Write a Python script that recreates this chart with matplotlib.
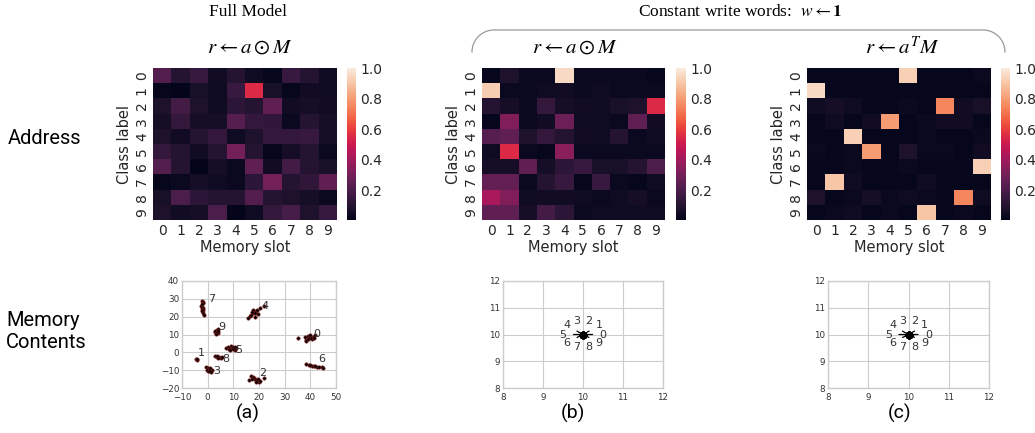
import numpy as np
import matplotlib
matplotlib.use("Agg")
import matplotlib.pyplot as plt
import seaborn as sns

# Address heatmaps (rows = class label, cols = memory slot)
slots = list(range(10))
classes = list(range(10))

addr_full = [
    [0.22, 0.10, 0.15, 0.05, 0.10, 0.04, 0.02, 0.15, 0.10, 0.04],
    [0.02, 0.01, 0.07, 0.04, 0.15, 0.55, 0.07, 0.02, 0.05, 0.04],
    [0.08, 0.18, 0.08, 0.04, 0.12, 0.10, 0.25, 0.05, 0.06, 0.05],
    [0.06, 0.14, 0.06, 0.06, 0.23, 0.14, 0.13, 0.03, 0.10, 0.06],
    [0.08, 0.05, 0.10, 0.14, 0.04, 0.08, 0.14, 0.14, 0.15, 0.06],
    [0.14, 0.10, 0.05, 0.10, 0.30, 0.10, 0.02, 0.06, 0.10, 0.03],
    [0.22, 0.10, 0.01, 0.06, 0.03, 0.25, 0.05, 0.18, 0.10, 0.07],
    [0.02, 0.03, 0.06, 0.04, 0.03, 0.12, 0.30, 0.10, 0.13, 0.25],
    [0.07, 0.20, 0.12, 0.10, 0.10, 0.22, 0.10, 0.08, 0.06, 0.03],
    [0.08, 0.05, 0.06, 0.20, 0.01, 0.04, 0.14, 0.19, 0.08, 0.15],
]
addr_const_had = [
    [0.02, 0.08, 0.03, 0.03, 0.95, 0.03, 0.03, 0.03, 0.03, 0.02],
    [0.92, 0.03, 0.03, 0.04, 0.05, 0.03, 0.04, 0.03, 0.03, 0.03],
    [0.10, 0.06, 0.03, 0.14, 0.06, 0.05, 0.04, 0.07, 0.08, 0.55],
    [0.02, 0.33, 0.03, 0.05, 0.28, 0.04, 0.04, 0.03, 0.25, 0.05],
    [0.23, 0.25, 0.08, 0.14, 0.10, 0.05, 0.04, 0.10, 0.03, 0.04],
    [0.04, 0.55, 0.03, 0.02, 0.35, 0.03, 0.03, 0.03, 0.03, 0.03],
    [0.06, 0.06, 0.25, 0.06, 0.12, 0.15, 0.07, 0.07, 0.10, 0.20],
    [0.26, 0.26, 0.03, 0.10, 0.15, 0.02, 0.15, 0.03, 0.02, 0.04],
    [0.42, 0.33, 0.04, 0.05, 0.05, 0.04, 0.03, 0.04, 0.06, 0.03],
    [0.25, 0.25, 0.06, 0.18, 0.12, 0.03, 0.04, 0.04, 0.04, 0.04],
]
addr_const_lin = [
    [0.02, 0.02, 0.02, 0.02, 0.02, 0.93, 0.02, 0.02, 0.02, 0.03],
    [0.95, 0.02, 0.02, 0.02, 0.02, 0.02, 0.02, 0.02, 0.02, 0.02],
    [0.04, 0.06, 0.04, 0.02, 0.02, 0.03, 0.02, 0.75, 0.05, 0.07],
    [0.02, 0.04, 0.02, 0.05, 0.80, 0.02, 0.03, 0.05, 0.05, 0.02],
    [0.02, 0.02, 0.93, 0.02, 0.02, 0.02, 0.03, 0.02, 0.02, 0.03],
    [0.03, 0.02, 0.03, 0.80, 0.02, 0.08, 0.03, 0.03, 0.02, 0.05],
    [0.02, 0.02, 0.03, 0.02, 0.02, 0.03, 0.02, 0.02, 0.02, 0.93],
    [0.02, 0.90, 0.04, 0.02, 0.02, 0.02, 0.04, 0.02, 0.02, 0.02],
    [0.08, 0.02, 0.03, 0.06, 0.03, 0.04, 0.03, 0.02, 0.75, 0.04],
    [0.02, 0.03, 0.04, 0.02, 0.03, 0.02, 0.90, 0.02, 0.03, 0.02],
]

# Memory contents, full model: 2D embedding of stored vectors per class
mem_x = {
    0: [35, 38, 38.5, 39, 39.5, 40, 40.5, 41, 38.3, 39.8, 40.3, 42, 39.2, 41.5],
    1: [-4.4, -4.2, -4.0],
    2: [16, 17, 17.5, 18, 18.5, 19, 19.5, 20, 20.3, 17.3, 18.8, 19.8, 22],
    3: [-0.5, 0, 0.5, 1, 1.5, 0.2, 0.8, -0.3, 1.2, 0.6],
    4: [15.8, 16.5, 17, 17.5, 18, 18.3, 18.8, 19.2, 17.8, 18.6, 20.3, 21.8, 17.2, 19.5],
    5: [7, 7.8, 8.5, 9, 9.5, 10, 10.5, 11, 8.2, 9.7, 10.8, 8.8],
    6: [38.5, 39.5, 40.5, 41.5, 42.5, 43.5, 44.5, 45, 42, 40],
    7: [-2.3, -2.0, -1.8, -2.5, -2.1, -1.7, -2.2, -1.9, -2.4, -2.0, -1.6, -2.1],
    8: [3, 3.5, 4, 4.5, 5, 5.5, 4.2, 3.8],
    9: [2.8, 3.2, 3.6, 4, 3.4, 3.9, 2.9, 3.5, 4.2],
}
mem_y = {
    0: [8, 8.5, 7, 9, 8, 8.8, 7.5, 8.5, 6.5, 9.5, 7.8, 10, 7.2, 8.2],
    1: [-3.8, -4.2, -3.5],
    2: [-15.5, -13, -14, -14.5, -15, -15.5, -16, -16.5, -16, -14.8, -16.8, -15.2, -14.5],
    3: [-8.5, -9, -9.5, -10, -9.8, -10.5, -8.8, -9.8, -10.8, -10.2],
    4: [19.5, 20.5, 21, 21.8, 22.5, 20, 23, 23.5, 24, 22, 25, 26, 22.8, 21.5],
    5: [2.5, 3, 2, 3.5, 2.5, 3, 1.5, 2.5, 1.8, 2, 3.2, 1.2],
    6: [-6.8, -7, -7.5, -7.8, -8, -8.3, -8.5, -9, -7.5, -7.2],
    7: [29, 28, 27.5, 26, 25.5, 25, 24.5, 24, 23, 22, 21, 27],
    8: [-2.3, -2.5, -2.7, -2.5, -3, -2.8, -3.2, -2.2],
    9: [11.5, 12, 12.5, 11, 10.5, 13, 11.8, 11.2, 12.2],
}
label_xy = {
    0: (42.5, 10.5), 1: (-2.5, -0.5), 2: (21.5, -11.5), 3: (3.5, -10.5), 4: (22.5, 26),
    5: (12, 1.5), 6: (44.5, -3.5), 7: (1.5, 30), 8: (7, -3.5), 9: (5.5, 14),
}

# Memory contents, constant write words: every class sits at (10, 10)
const_x = [10] * 10
const_y = [10] * 10
# label offsets (pixels) around the collapsed point
const_off = {
    0: (20, 0), 1: (16, 9), 2: (6, 13), 3: (-6, 13), 4: (-16, 9),
    5: (-20, 0), 6: (-16, -8), 7: (-6, -12), 8: (6, -12), 9: (16, -8),
}

W, H = 1035, 433
fig = plt.figure(figsize=(W / 100, H / 100), dpi=100)


def fx(px):
    return px / W


def fy(py):
    return 1 - py / H


heat_specs = [
    (addr_full, 153, 184, 347, 9),
    (addr_const_had, 482, 183, 676, 10),
    (addr_const_lin, 807, 184, 1001, 9),
]
for data, left, width, cleft, cwidth in heat_specs:
    ax = fig.add_axes([fx(left), fy(220), fx(width), 152 / H])
    cax = fig.add_axes([fx(cleft), fy(220), fx(cwidth), 152 / H])
    sns.heatmap(np.array(data), ax=ax, cbar_ax=cax, cmap="rocket",
                vmin=0.005, vmax=1.0, xticklabels=slots, yticklabels=classes)
    ax.tick_params(length=0, labelsize=10, colors="#262626", pad=3)
    ax.set_yticklabels(classes, rotation=90, va="center")
    ax.set_xticklabels(slots, rotation=0)
    ax.set_xlabel("Memory slot", fontsize=10.5, color="#262626", labelpad=1)
    ax.set_ylabel("Class label", fontsize=10.5, color="#262626", labelpad=2)
    cax.set_yticks([0.2, 0.4, 0.6, 0.8, 1.0])
    cax.set_yticklabels(["0.2", "0.4", "0.6", "0.8", "1.0"])
    cax.tick_params(length=0, labelsize=10, colors="#262626", pad=3)
    for s in cax.spines.values():
        s.set_visible(False)


def style_scatter(ax):
    ax.set_facecolor("white")
    for s in ax.spines.values():
        s.set_color("#cccccc")
        s.set_linewidth(1)
    ax.grid(True, color="#cccccc", linewidth=0.8)
    ax.set_axisbelow(True)
    ax.tick_params(length=0, labelsize=6.3, colors="#333333", pad=2)
    ax.tick_params(axis="x", pad=3.5)


# (a) full model memory contents
ax = fig.add_axes([fx(182), fy(388), fx(154), 107 / H])
for k in range(10):
    ax.scatter(mem_x[k], mem_y[k], s=6, c="black", edgecolors="#8b2020",
               linewidths=0.4, zorder=3)
    ax.text(label_xy[k][0], label_xy[k][1], str(k), fontsize=8,
            color="#333333", ha="center", va="center", zorder=4)
ax.set_xlim(-10, 50)
ax.set_ylim(-20, 40)
ax.set_xticks(range(-10, 51, 10))
ax.set_yticks(range(-20, 41, 10))
ax.set_xticklabels(["\u221210"] + [str(v) for v in range(0, 51, 10)])
ax.set_yticklabels(["\u221220", "\u221210"] + [str(v) for v in range(0, 41, 10)])
style_scatter(ax)

# (b), (c) constant write words memory contents
for left, width in [(503, 160), (828, 161)]:
    ax = fig.add_axes([fx(left), fy(388), fx(width), 107 / H])
    for k in range(10):
        ax.annotate(str(k), xy=(const_x[k], const_y[k]), xytext=const_off[k],
                    textcoords="offset pixels", fontsize=8, color="#333333",
                    ha="center", va="center",
                    arrowprops=dict(arrowstyle="-", color="black", lw=0.9,
                                    shrinkA=3, shrinkB=0))
    ax.scatter(const_x, const_y, s=20, c="black", zorder=5)
    ax.set_xlim(8, 12)
    ax.set_ylim(8, 12)
    ax.set_xticks([8, 9, 10, 11, 12])
    ax.set_yticks([8, 9, 10, 11, 12])
    style_scatter(ax)

# titles
serif = "Liberation Serif"
plt.rcParams["mathtext.fontset"] = "stix"
fig.text(fx(248), fy(12), "Full Model", family=serif, fontsize=12.5,
         ha="center", va="center")
fig.text(fx(740), fy(12), r"Constant write words:  $w \leftarrow \mathbf{1}$",
         family=serif, fontsize=12.5, ha="center", va="center")
fig.text(fx(250), fy(47), r"$r \leftarrow a \odot M$", fontsize=15,
         ha="center", va="center")
fig.text(fx(575), fy(47), r"$r \leftarrow a \odot M$", fontsize=15,
         ha="center", va="center")
fig.text(fx(902), fy(47), r"$r \leftarrow a^T M$", fontsize=15,
         ha="center", va="center")

# bracket over the constant write word columns
r = 22
t = np.linspace(0, np.pi / 2, 30)
bx = np.concatenate([472 + r - r * np.cos(t), [472 + r, 1005 - r],
                     1005 - r + r * np.sin(t)])
by = np.concatenate([30 + r - r * np.sin(t), [30, 30], 30 + r - r * np.cos(t)])
fig.add_artist(plt.Line2D(bx / W, 1 - by / H, color="#999999", lw=0.9))

# row labels
fig.text(fx(8), fy(139), "Address", family="Roboto", fontsize=14.5,
         ha="left", va="center")
fig.text(fx(6), fy(331), "Memory\nContents", family="Roboto", fontsize=14.5,
         ha="left", va="center", linespacing=1.2)

for lab, xc in [("(a)", 248), ("(b)", 573), ("(c)", 900)]:
    fig.text(fx(xc), fy(413), lab, family="Roboto", fontsize=14,
             ha="center", va="center")

fig.savefig("out.png", dpi=100)
